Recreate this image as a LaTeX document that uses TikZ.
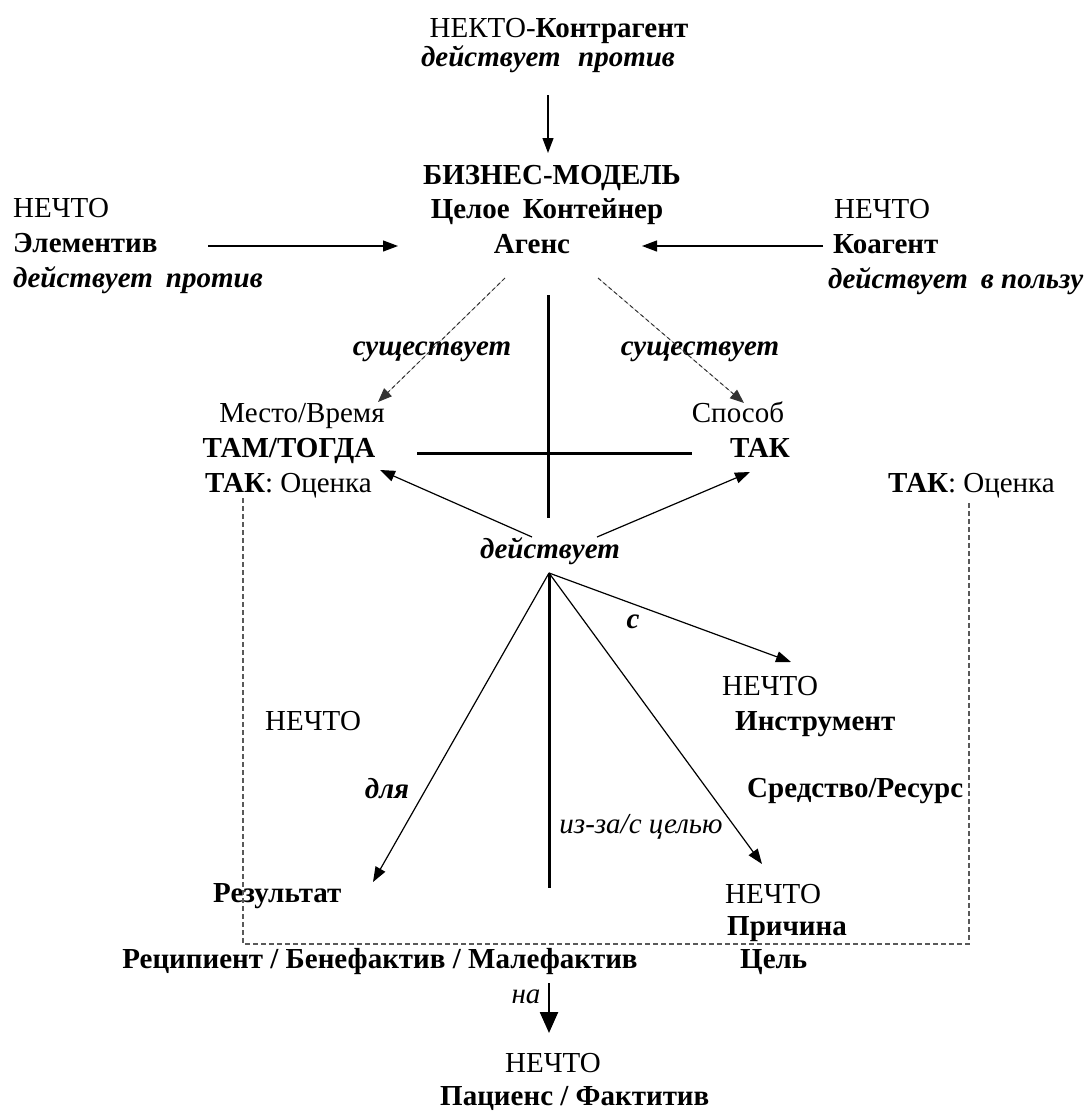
\documentclass[tikz,border=0pt]{standalone}
\usepackage{fontspec}
\setmainfont{Liberation Serif}
\usetikzlibrary{arrows.meta}
\newcommand\fsz{\fontsize{29}{34}\selectfont}
\tikzset{
  txt/.style={inner sep=0pt, anchor=base, font=\fsz},
  ltxt/.style={txt, anchor=base west},
  bi/.style={font=\fsz\bfseries\itshape},
  arr/.style={-{Triangle[length=15pt,width=11pt]}, line width=1.2pt},
  bigarr/.style={-{Triangle[length=21pt,width=18pt]}, line width=2.4pt},
  heavy/.style={line width=3pt},
  exdash/.style={-{Triangle[length=14pt,width=11pt]}, line width=1pt, draw=black!80, fill=black, dash pattern=on 4pt off 3pt},
  boxdash/.style={line width=1.3pt, draw=black!65, dash pattern=on 5pt off 3pt},
}
\begin{document}
\begin{tikzpicture}[x=1pt,y=-1pt]
\useasboundingbox (0,0) rectangle (1091,1111);
% top
\node[txt] (kontr) at (559,37) {НЕКТО-\textbf{Контрагент}};
\node[txt,bi] (kontrv) at (548,66) {действует\hspace{0.6em}против};
\node[txt,font=\fsz\bfseries] (bm) at (552,184) {БИЗНЕС-МОДЕЛЬ};
\node[txt,font=\fsz\bfseries] (cel) at (547,218) {Целое\hspace{0.45em}Контейнер};
\node[txt,font=\fsz\bfseries] (agens) at (532,253) {Агенс};
% left group
\node[ltxt] (lnechto) at (13,217) {НЕЧТО};
\node[ltxt,font=\fsz\bfseries] (elem) at (13,252) {Элементив};
\node[ltxt,bi] (elemv) at (13,287) {действует\hspace{0.45em}против};
% right group
\node[ltxt] (rnechto) at (834,218) {НЕЧТО};
\node[ltxt,font=\fsz\bfseries] (koag) at (833,253) {Коагент};
\node[ltxt,bi] (koagv) at (828,288) {действует\hspace{0.45em}в пользу};
% exists
\node[txt,bi] (suschL) at (432,355) {существует};
\node[txt,bi] (suschR) at (700,355) {существует};
\node[txt] (mesto) at (302,422) {Место/Время};
\node[txt,font=\fsz\bfseries] (tam) at (289,457) {ТАМ/ТОГДА};
\node[ltxt] (takL) at (205,492) {\textbf{ТАК}: Оценка};
\node[txt] (sposob) at (738,422) {Способ};
\node[txt,font=\fsz\bfseries] (tak) at (760,457) {ТАК};
\node[ltxt] (takR) at (888,492) {\textbf{ТАК}: Оценка};
% acts
\node[txt,bi] (deyst) at (550,558) {действует};
\node[txt,bi] (lc) at (633,628) {с};
\node[ltxt] (inechto) at (722,695) {НЕЧТО};
\node[ltxt,font=\fsz\bfseries] (instr) at (735,730) {Инструмент};
\node[ltxt,font=\fsz\bfseries] (sredst) at (747,797) {Средство/Ресурс};
\node[ltxt] (mnechto) at (265,730) {НЕЧТО};
\node[txt,bi] (dlya) at (387,798) {для};
\node[txt,font=\fsz\itshape] (izza) at (641,833) {из-за/с целью};
\node[ltxt,font=\fsz\bfseries] (rez) at (213,902) {Результат};
\node[ltxt] (pnechto) at (725,903) {НЕЧТО};
\node[ltxt,font=\fsz\bfseries] (prich) at (727,935) {Причина};
\node[ltxt,font=\fsz\bfseries] (cel2) at (740,968) {Цель};
\node[txt,font=\fsz\bfseries] (recip) at (380,968) {Реципиент / Бенефактив / Малефактив};
\node[txt,font=\fsz\itshape] (na) at (526,1003) {на};
\node[txt] (bnechto) at (553,1072) {НЕЧТО};
\node[ltxt,font=\fsz\bfseries] (pac) at (440,1105) {Пациенс / Фактитив};
% coordinates
\coordinate (a1s) at (548,95);   \coordinate (a1e) at (548,153);
\coordinate (a2s) at (208,246);  \coordinate (a2e) at (398,246);
\coordinate (a3s) at (823,246);  \coordinate (a3e) at (642,246);
\coordinate (e1s) at (505,278);  \coordinate (e1e) at (378,402);
\coordinate (e2s) at (598,278);  \coordinate (e2e) at (744,403);
\coordinate (vt) at (548,295);   \coordinate (vb) at (548,518);
\coordinate (hl) at (417,453);   \coordinate (hr) at (692,453);
\coordinate (d1s) at (532,537);  \coordinate (d1e) at (380,470);
\coordinate (d2s) at (597,537);  \coordinate (d2e) at (750,472);
\coordinate (fan) at (549,573);
\coordinate (fI) at (791,662);
\coordinate (fP) at (762,864);
\coordinate (fR) at (373,882);
\coordinate (fV) at (549,888);
\coordinate (ns) at (549,983);   \coordinate (ne) at (549,1033);
\coordinate (b1) at (243,498); \coordinate (b2) at (243,944);
\coordinate (b3) at (969,944); \coordinate (b4) at (969,503);
% connectors
\draw[arr] (a1s) -- (a1e);
\draw[arr] (a2s) -- (a2e);
\draw[arr] (a3s) -- (a3e);
\draw[exdash] (e1s) -- (e1e);
\draw[exdash] (e2s) -- (e2e);
\draw[heavy] (vt) -- (vb);
\draw[heavy] (hl) -- (hr);
\draw[arr] (d1s) -- (d1e);
\draw[arr] (d2s) -- (d2e);
\draw[arr] (fan) -- (fI);
\draw[arr] (fan) -- (fP);
\draw[arr] (fan) -- (fR);
\draw[heavy] (fan) -- (fV);
\draw[bigarr] (ns) -- (ne);
\draw[boxdash] (b1) -- (b2) -- (b3) -- (b4);
\end{tikzpicture}
\end{document}
